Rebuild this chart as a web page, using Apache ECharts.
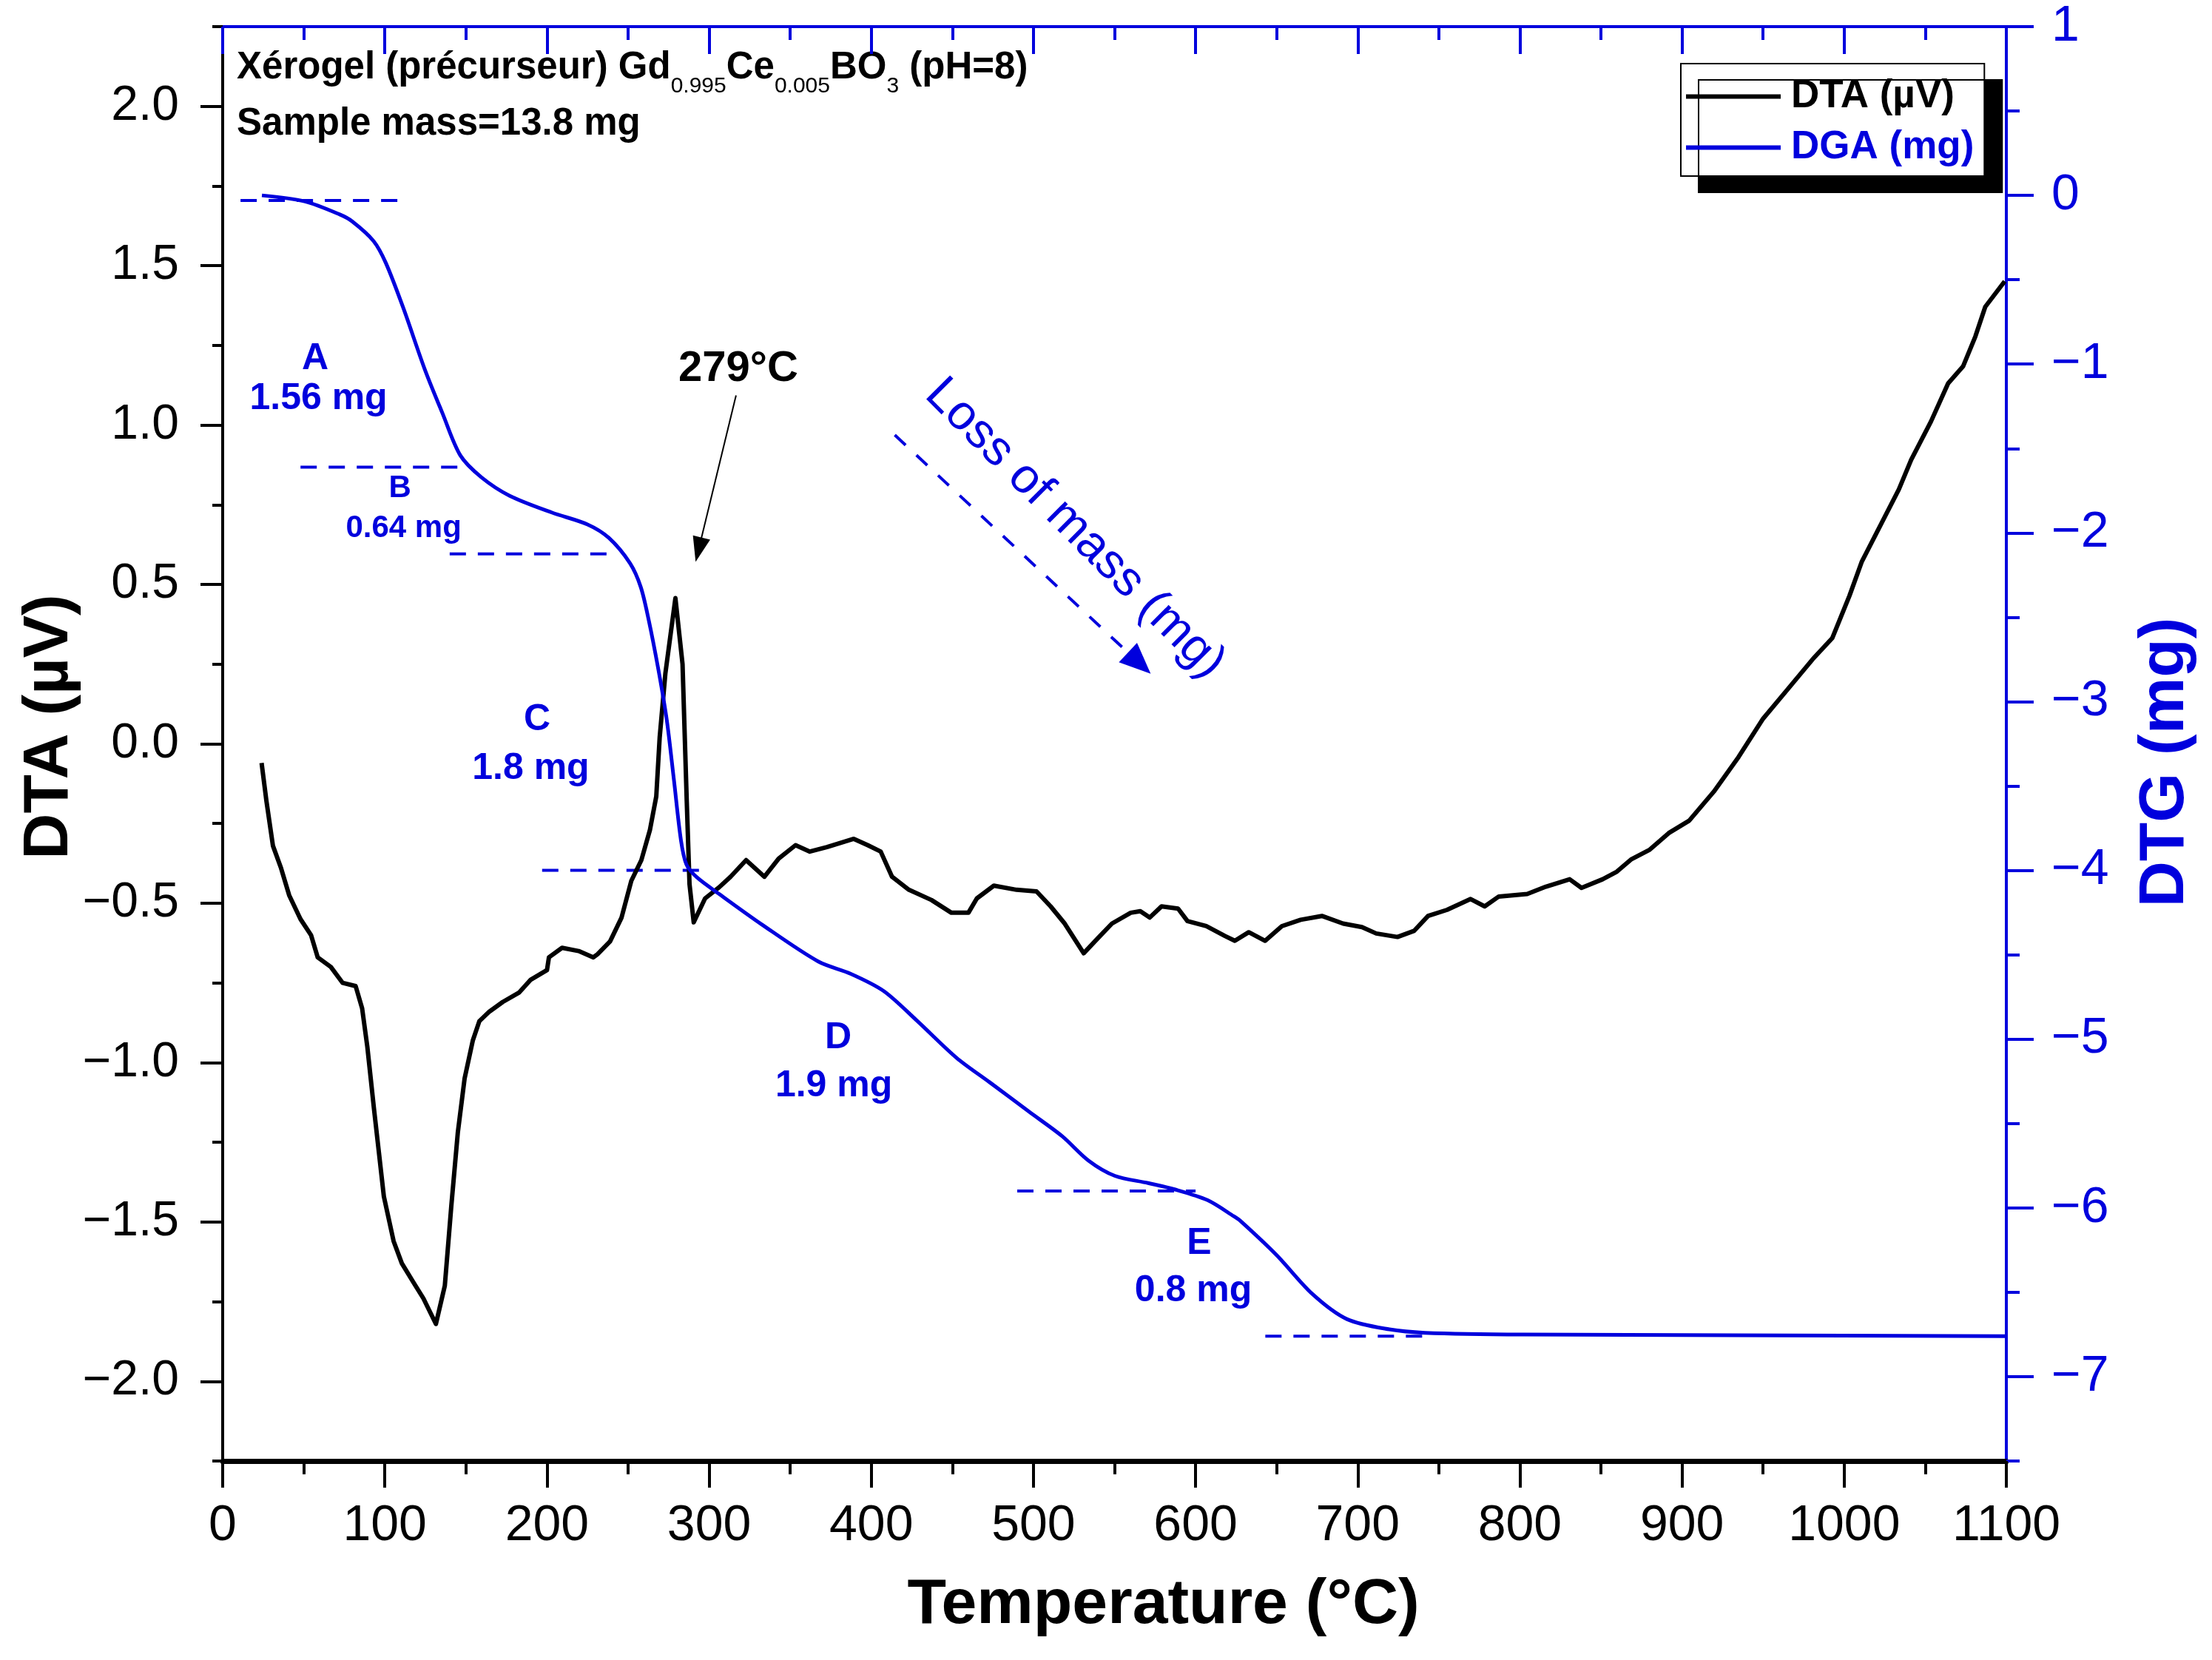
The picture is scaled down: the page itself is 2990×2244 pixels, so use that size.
<!DOCTYPE html>
<html>
<head>
<meta charset="utf-8">
<script src="https://cdn.jsdelivr.net/npm/echarts@6/dist/echarts.min.js"></script>
<style>html,body{margin:0;padding:0;background:#fff}#c{width:2990px;height:2244px}</style>
</head>
<body>
<div id="c"></div>
<script>
// ---------- data ----------
// DTA trace: [temperature °C, DTA µV]
const dtaCurve = [
  [24,-0.06],[27,-0.18],[31,-0.32],[36,-0.39],[41,-0.475],[48,-0.55],[54.5,-0.60],[58.6,-0.67],
  [66.7,-0.70],[74,-0.75],[82,-0.76],[86,-0.83],[89.2,-0.95],[93.2,-1.14],[96.3,-1.28],[99.4,-1.42],
  [105.4,-1.56],[110.5,-1.63],[117.7,-1.69],[123.8,-1.74],[131.5,-1.82],[137,-1.70],[141,-1.45],
  [145,-1.22],[149.2,-1.05],[154.3,-0.93],[158.3,-0.87],[164.5,-0.84],[172.7,-0.81],[182.9,-0.78],
  [190,-0.74],[200,-0.71],[201.2,-0.67],[209.3,-0.64],[219.5,-0.65],[228.6,-0.67],[231.2,-0.66],
  [238.9,-0.62],[246,-0.545],[252,-0.43],[258.2,-0.365],[263.5,-0.27],[267.4,-0.165],[269.5,0.02],
  [273,0.22],[279.2,0.457],[283.6,0.25],[286.2,-0.18],[287.9,-0.44],[290.5,-0.56],[297.5,-0.485],
  [306.2,-0.45],[313.2,-0.417],[322.8,-0.365],[334.1,-0.417],[342.9,-0.36],[353.3,-0.318],
  [362.1,-0.338],[372.6,-0.324],[389.2,-0.298],[397.8,-0.318],[405.8,-0.338],[412.8,-0.417],
  [423.2,-0.458],[437.1,-0.49],[449.4,-0.53],[459.9,-0.53],[465.1,-0.485],[475.6,-0.445],
  [489.6,-0.458],[501.9,-0.463],[510.6,-0.51],[519.3,-0.564],[531,-0.657],[539.7,-0.61],
  [548.4,-0.564],[560,-0.53],[565.9,-0.525],[571.7,-0.545],[579,-0.51],[589.2,-0.517],[595,-0.556],
  [606.6,-0.572],[618.2,-0.603],[624.2,-0.618],[632.8,-0.591],[642.9,-0.618],[653.2,-0.572],
  [664.8,-0.552],[677.9,-0.54],[691,-0.564],[702.6,-0.575],[711.4,-0.595],[724.5,-0.606],
  [734.7,-0.587],[743.4,-0.54],[755,-0.521],[769.6,-0.487],[778.3,-0.51],[787,-0.479],
  [804.5,-0.471],[816.1,-0.448],[830.7,-0.425],[838,-0.452],[851,-0.425],[859.8,-0.401],
  [868.5,-0.363],[880.1,-0.332],[891.8,-0.28],[904.4,-0.241],[919.6,-0.15],[934.9,-0.041],
  [950,0.079],[965.3,0.172],[980.5,0.265],[992.7,0.332],[1003.3,0.465],[1010.9,0.572],
  [1023,0.692],[1033.7,0.798],[1041.3,0.891],[1053.5,1.011],[1064.1,1.131],[1073.3,1.184],
  [1080.9,1.278],[1087,1.371],[1099,1.451]
];
// DGA (mass) trace: [temperature °C, mg]
const dgaCurve = [
  [24.2,0.0],[50.4,-0.035],[72.2,-0.113],[80,-0.155],[93,-0.27],[100.6,-0.40],
  [111.5,-0.67],[124.6,-1.03],[135.5,-1.29],[146.5,-1.54],[159.5,-1.67],
  [177,-1.78],[203.2,-1.88],[225,-1.95],
  [238.2,-2.03],[251.2,-2.18],[257.8,-2.32],[262.6,-2.51],[268.7,-2.81],[273.9,-3.11],
  [278.3,-3.465],[282.6,-3.82],[286,-3.965],[292.3,-4.04],[306.2,-4.14],[332.4,-4.32],
  [367.3,-4.54],[387.4,-4.613],[407.7,-4.715],[428.1,-4.89],[452.5,-5.11],[472.9,-5.255],
  [497.3,-5.43],[517.7,-5.575],[534,-5.72],[550.2,-5.81],[570.7,-5.853],[587,-5.89],
  [607.3,-5.954],[623.6,-6.05],[628,-6.08],[650,-6.28],[672,-6.51],[693.5,-6.66],[719.5,-6.72],
  [741.4,-6.74],[802,-6.75],[1100,-6.76]
];
// dashed step guides (on DTG axis)
const guideLevels = [-0.03, -1.61, -2.125, -4.0, -5.90, -6.76];
const guideStarts = [11, 48, 140, 197, 490, 643];
const guideEnds   = [111, 149, 243, 297, 600, 741];
// step annotations
const stepLetters = ['A', 'B', 'C', 'D', 'E'];
const stepLosses  = ['1.56 mg', '0.64 mg', '1.8 mg', '1.9 mg', '0.8 mg'];
const letterAnchors = [[57.0,-0.971],[109.4,-1.736],[193.9,-3.109],[379.6,-4.993],[602.2,-6.213]];
const lossAnchors   = [[59.1,-1.207],[111.6,-1.976],[190.0,-3.399],[376.9,-5.278],[598.6,-6.493]];
// peak annotation (DTA axis)
const peakText = '279°C';
const peakTextAnchor = [318, 1.176];
const peakArrow = [[316.6, 1.093], [293.5, 0.609]];
// loss-of-mass annotation (DTG axis)
const lossText = 'Loss of mass (mg)';
const lossTextAnchor = [525.6, -1.976];
const lossArrow = [[414.5, -1.42], [565.3, -2.772]];
// axis ticks
const dtaMajorTicks = [-2, -1.5, -1, -0.5, 0, 0.5, 1, 1.5, 2];
const dtgMajorTicks = [-7, -6, -5, -4, -3, -2, -1, 0, 1];

// ---------- chart ----------
const BLUE = '#0000DD';
const FONT = 'Liberation Sans, Arial, Helvetica, sans-serif';
const minus = s => s.replace('-', '\u2212');

const chart = echarts.init(document.getElementById('c'), null, {renderer: 'canvas'});

const guideSeries = guideLevels.map((lv, i) => ({
  type: 'line', xAxisIndex: 0, yAxisIndex: 1, silent: true,
  data: [[guideStarts[i], lv], [guideEnds[i], lv]],
  symbol: 'none', z: 2,
  lineStyle: {color: BLUE, width: 4, type: [22, 16]}
}));

// text annotations (anchored in data space, drawn through the axes)
const blueTexts = [];
stepLetters.forEach((t, i) => {
  const sz = (i === 1) ? 42 : 50;
  blueTexts.push({text: t, at: letterAnchors[i], size: sz, weight: 'bold', rot: 0});
  blueTexts.push({text: stepLosses[i], at: lossAnchors[i], size: sz, weight: 'bold', rot: 0});
});
blueTexts.push({text: lossText, at: lossTextAnchor, size: 66, weight: 'normal', rot: -Math.PI / 4});
const blackTexts = [{text: peakText, at: peakTextAnchor, size: 58, weight: 'bold', rot: 0}];

function textSeries(list, yIdx, color) {
  return {
    type: 'custom', xAxisIndex: 0, yAxisIndex: yIdx, silent: true, z: 6,
    data: list.map((d, i) => [d.at[0], d.at[1], i]),
    renderItem: (params, api) => {
      const d = list[params.dataIndex];
      const p = api.coord([api.value(0), api.value(1)]);
      return {
        type: 'text', x: p[0], y: p[1], rotation: d.rot,
        style: {text: d.text, fill: color, fontSize: d.size, fontWeight: d.weight,
                fontFamily: FONT, align: 'center', verticalAlign: 'middle'}
      };
    }
  };
}

const gridBox = {left: 301, right: 278, top: 36, bottom: 269, containLabel: false, outerBoundsMode: 'none'};

const option = {
  animation: false,
  backgroundColor: '#fff',
  textStyle: {fontFamily: FONT},
  grid: [Object.assign({}, gridBox), Object.assign({}, gridBox)],
  legend: {
    data: [{name: 'DTA (µV)', textStyle: {color: '#000'}}, {name: 'DGA (mg)', textStyle: {color: BLUE}}],
    orient: 'vertical', left: 2272, top: 86,
    padding: [18, 14, 12, 7],
    icon: 'rect',
    itemWidth: 128, itemHeight: 6, itemGap: 16,
    selectedMode: false,
    textStyle: {fontSize: 53, fontWeight: 'bold', fontFamily: FONT, padding: [0, 0, 0, 9]},
    backgroundColor: '#fff', borderColor: '#000', borderWidth: 2,
    shadowColor: '#000', shadowBlur: 0, shadowOffsetX: 24, shadowOffsetY: 22
  },
  graphic: [
    {type: 'text', left: 320, top: 52, silent: true, style: {
      text: 'Xérogel (précurseur) Gd{s|0.995}Ce{s|0.005}BO{s|3} (pH=8)',
      fontFamily: FONT, fontSize: 51, fontWeight: 'bold', lineHeight: 80, fill: '#000',
      rich: {s: {fontFamily: FONT, fontSize: 30, fontWeight: 'normal', lineHeight: 30, verticalAlign: 'bottom', fill: '#000'}}
    }},
    {type: 'text', left: 320, top: 138, silent: true, style: {
      text: 'Sample mass=13.8 mg', fontFamily: FONT, fontSize: 51, fontWeight: 'bold', lineHeight: 60, fill: '#000'
    }}
  ],
  xAxis: [
    {
      gridIndex: 0, type: 'value', position: 'bottom', min: 0, max: 1100, interval: 100,
      axisLine: {show: true, onZero: false, lineStyle: {color: '#000', width: 7}},
      axisTick: {show: true, length: 36, lineStyle: {color: '#000', width: 4}},
      minorTick: {show: true, splitNumber: 2, length: 18, lineStyle: {color: '#000', width: 4}},
      axisLabel: {margin: 54, fontSize: 68, color: '#000', fontFamily: FONT, showMinLabel: true, showMaxLabel: true,
        formatter: v => String(Math.round(v))},
      splitLine: {show: false}, minorSplitLine: {show: false},
      name: 'Temperature (°C)', nameLocation: 'middle', nameGap: 152, nameMoveOverlap: false,
      nameTextStyle: {fontSize: 86, fontWeight: 'bold', color: '#000', fontFamily: FONT, padding: [0, 0, 0, 132]}
    },
    {
      gridIndex: 0, type: 'value', position: 'top', min: 0, max: 1100, interval: 100,
      axisLine: {show: true, onZero: false, lineStyle: {color: BLUE, width: 4}},
      axisTick: {show: true, inside: true, length: 37, lineStyle: {color: BLUE, width: 4}},
      minorTick: {show: true, splitNumber: 2, length: 18, lineStyle: {color: BLUE, width: 4}},
      axisLabel: {show: false}, splitLine: {show: false}, minorSplitLine: {show: false}
    },
    {
      gridIndex: 1, type: 'value', position: 'bottom', min: 0, max: 1100, interval: 100, show: false
    }
  ],
  yAxis: [
    {
      gridIndex: 0, type: 'value', position: 'left', min: -2.25, max: 2.25, interval: 0.25,
      axisLine: {show: true, onZero: false, lineStyle: {color: '#000', width: 4}},
      axisTick: {show: true, length: 30, customValues: dtaMajorTicks, lineStyle: {color: '#000', width: 4}},
      axisLabel: {
        customValues: dtaMajorTicks, margin: 59, fontSize: 66, color: '#000', fontFamily: FONT,
        formatter: v => {
          const r = Math.round(v * 100) / 100;
          if (Math.abs(r * 2 - Math.round(r * 2)) > 1e-6) return '';
          return minus(r.toFixed(1));
        }
      },
      splitLine: {show: false},
      name: 'DTA (µV)', nameLocation: 'middle', nameGap: 191, nameRotate: 90, nameMoveOverlap: false,
      nameTextStyle: {fontSize: 86, fontWeight: 'bold', color: '#000', fontFamily: FONT, padding: [0, 0, 0, 46]}
    },
    {
      gridIndex: 0, type: 'value', position: 'right', min: -7.5, max: 1, interval: 0.5,
      axisLine: {show: true, onZero: false, lineStyle: {color: BLUE, width: 4}},
      axisTick: {show: true, length: 37, customValues: dtgMajorTicks, lineStyle: {color: BLUE, width: 4}},
      axisLabel: {
        customValues: dtgMajorTicks, margin: 61, fontSize: 68, color: BLUE, fontFamily: FONT,
        formatter: v => {
          const r = Math.round(v * 100) / 100;
          return Number.isInteger(r) ? minus(String(r)) : '';
        }
      },
      splitLine: {show: false},
      name: 'DTG (mg)', nameLocation: 'middle', nameGap: 172, nameRotate: 90, nameMoveOverlap: false,
      nameTextStyle: {fontSize: 86, fontWeight: 'bold', color: BLUE, fontFamily: FONT, padding: [0, 50, 0, 0]}
    },
    {
      gridIndex: 1, type: 'value', position: 'left', min: -2.25, max: 2.25, interval: 0.25,
      axisLine: {show: false},
      axisTick: {show: true, length: 14, lineStyle: {color: '#000', width: 4}},
      axisLabel: {show: false}, splitLine: {show: false}
    },
    {
      gridIndex: 1, type: 'value', position: 'right', min: -7.5, max: 1, interval: 0.5,
      axisLine: {show: false},
      axisTick: {show: true, length: 18, lineStyle: {color: BLUE, width: 4}},
      axisLabel: {show: false}, splitLine: {show: false}
    }
  ],
  series: [
    ...guideSeries,
    {
      name: 'DTA (µV)', type: 'line', xAxisIndex: 0, yAxisIndex: 0, data: dtaCurve,
      symbol: 'none', z: 3, silent: true,
      lineStyle: {color: '#000', width: 6, join: 'round'}, itemStyle: {color: '#000'},
      markLine: {
        silent: true, animation: false, symbol: ['none', 'triangle'], symbolSize: [24, 34],
        label: {show: false}, emphasis: {disabled: true},
        lineStyle: {color: '#000', width: 2, type: 'solid'},
        itemStyle: {color: '#000'},
        data: [[{coord: peakArrow[0]}, {coord: peakArrow[1]}]]
      }
    },
    {
      name: 'DGA (mg)', type: 'line', xAxisIndex: 0, yAxisIndex: 1, data: dgaCurve,
      symbol: 'none', z: 4, silent: true, smooth: 0.3,
      lineStyle: {color: BLUE, width: 5, join: 'round'}, itemStyle: {color: BLUE},
      markLine: {
        silent: true, animation: false, symbol: ['none', 'triangle'], symbolSize: [36, 42],
        label: {show: false}, emphasis: {disabled: true},
        lineStyle: {color: BLUE, width: 4, type: [20, 20]},
        itemStyle: {color: BLUE},
        data: [[{coord: lossArrow[0]}, {coord: lossArrow[1]}]]
      }
    },
    textSeries(blueTexts, 1, BLUE),
    textSeries(blackTexts, 0, '#000'),
    {type: 'line', xAxisIndex: 2, yAxisIndex: 2, data: [], silent: true, symbol: 'none'},
    {type: 'line', xAxisIndex: 2, yAxisIndex: 3, data: [], silent: true, symbol: 'none'}
  ]
};
chart.setOption(option);
</script>
</body>
</html>
